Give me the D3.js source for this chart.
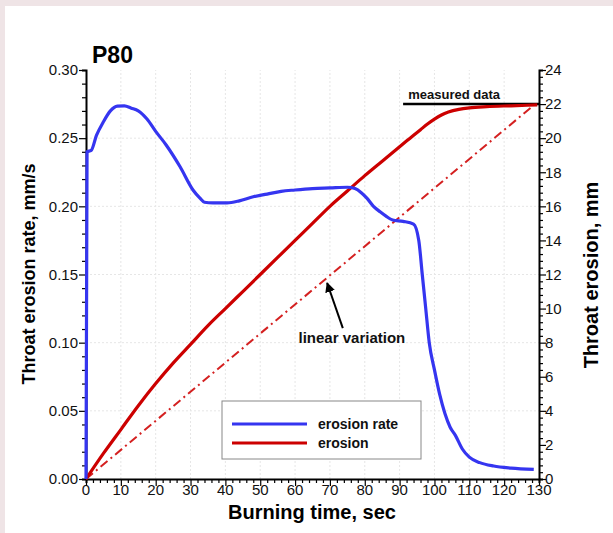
<!DOCTYPE html>
<html lang="en">
<head>
  <meta charset="UTF-8" />
  <title>P80 throat erosion</title>
  <script src="https://d3js.org/d3.v7.min.js"></script>
  <style>
    body { margin: 0; background: #efe4e6; }
    svg { display: block; font-family: "Liberation Sans", Arial, sans-serif; }
    .tick-label { font-size: 15px; fill: #111; }
    .axis-title { font-size: 20px; font-weight: bold; fill: #000; }
    .note { font-size: 13px; font-weight: bold; fill: #111; }
  </style>
</head>
<body>
  <svg id="chart" width="613" height="533"></svg>

  <script>
    // erosion rate, mm/s
    const rateTime = [0, 0.3, 1.5, 3, 5, 7, 9, 11, 13, 15, 17.5, 20, 23, 27, 30.7, 32.7, 34, 36.4, 40.5, 44, 48, 52, 56, 60, 65, 70, 75, 77.2, 79, 80.6, 82.5, 84.4, 86, 88, 91, 94, 95.5, 96.5, 97.5, 98.5, 100, 101.5, 103, 104.5, 106, 108, 110, 113, 117, 122, 128.5];
    const rateValue = [0, 0.240, 0.241, 0.252, 0.262, 0.270, 0.2735, 0.2737, 0.272, 0.270, 0.264, 0.255, 0.245, 0.229, 0.212, 0.206, 0.203, 0.2025, 0.2025, 0.204, 0.207, 0.209, 0.211, 0.212, 0.213, 0.2135, 0.214, 0.213, 0.210, 0.206, 0.200, 0.196, 0.193, 0.190, 0.189, 0.187, 0.175, 0.150, 0.125, 0.100, 0.080, 0.062, 0.048, 0.038, 0.032, 0.022, 0.016, 0.012, 0.0095, 0.008, 0.007];

    // erosion, mm
    const erosionTime = [0, 5, 10, 15, 20, 25, 30, 35, 40, 45, 50, 55, 60, 65, 70, 75, 80, 85, 90, 93, 96, 98, 100, 102, 104, 107, 110, 115, 122, 129.5];
    const erosionValue = [0, 1.5, 2.9, 4.3, 5.6, 6.8, 7.9, 9.0, 10.0, 11.0, 12.0, 13.0, 14.0, 15.0, 16.0, 16.9, 17.8, 18.65, 19.5, 20.0, 20.5, 20.83, 21.12, 21.36, 21.53, 21.69, 21.78, 21.85, 21.9, 21.95];

    // linear variation and measured data, mm
    const linearTime = [0, 128.3];
    const linearValue = [0, 21.9];
    const measuredTime = [91, 130];
    const measuredValue = [22, 22];

    const xTicks = d3.range(0, 131, 10);
    const leftTicks = [0, 0.05, 0.10, 0.15, 0.20, 0.25, 0.30];
    const rightTicks = d3.range(0, 25, 2);

    const svg = d3.select("#chart");
    svg.append("rect").attr("x", 5).attr("y", 6).attr("width", 608).attr("height", 527).attr("fill", "#fff");

    const x = d3.scaleLinear().domain([0, 130]).range([86, 539]);
    const yL = d3.scaleLinear().domain([0, 0.30]).range([479, 70]);
    const yR = d3.scaleLinear().domain([0, 24]).range([479, 70]);

    // faint grid
    const grid = svg.append("g").attr("stroke", "#e6e6e6").attr("stroke-dasharray", "2,2").attr("stroke-width", 1);
    grid.selectAll(".gx").data(xTicks.slice(1, -1)).join("line")
      .attr("x1", d => x(d)).attr("x2", d => x(d)).attr("y1", yL(0)).attr("y2", yL(0.30));
    grid.selectAll(".gy").data(leftTicks.slice(1, -1)).join("line")
      .attr("x1", x(0)).attr("x2", x(130)).attr("y1", d => yL(d)).attr("y2", d => yL(d));

    // axes
    const fmt2 = d3.format(".2f");
    const bottom = svg.append("g").attr("transform", `translate(0,${yL(0)})`)
      .call(d3.axisBottom(x).tickValues(d3.range(0, 131, 2)).tickSize(4).tickFormat(""));
    bottom.selectAll(".tick line").filter(d => d % 10 === 0).attr("y2", 7);
    bottom.append("g").selectAll("text").data(xTicks).join("text")
      .attr("class", "tick-label").attr("x", d => x(d)).attr("y", 16).attr("text-anchor", "middle")
      .text(d => d);

    const left = svg.append("g").attr("transform", `translate(${x(0)},0)`)
      .call(d3.axisLeft(yL).tickValues(d3.range(0, 0.3001, 0.01)).tickSize(4).tickFormat(""));
    left.selectAll(".tick line").filter(d => Math.abs(Math.round(d * 100) % 5) === 0).attr("x2", -7);
    left.append("g").selectAll("text").data(leftTicks).join("text")
      .attr("class", "tick-label").attr("x", -8).attr("y", d => yL(d)).attr("dy", "0.35em")
      .attr("text-anchor", "end").text(d => fmt2(d));

    const right = svg.append("g").attr("transform", `translate(${x(130)},0)`)
      .call(d3.axisRight(yR).tickValues(d3.range(0, 24.001, 0.4)).tickSize(4).tickFormat(""));
    right.selectAll(".tick line").filter(d => Math.abs(d / 2 - Math.round(d / 2)) < 1e-6).attr("x2", 7);
    right.append("g").selectAll("text").data(rightTicks).join("text")
      .attr("class", "tick-label").attr("x", 6).attr("y", d => yR(d)).attr("dy", "0.35em")
      .text(d => d);

    [bottom, left, right].forEach(g => {
      g.select(".domain").attr("stroke", "#000").attr("stroke-width", 2);
      g.selectAll(".tick line").attr("stroke", "#000").attr("stroke-width", 1.2);
    });

    // series
    const lineR = d3.line().x(d => x(d[0])).y(d => yR(d[1])).curve(d3.curveMonotoneX);
    const lineL = d3.line().x(d => x(d[0])).y(d => yL(d[1])).curve(d3.curveMonotoneX);

    svg.append("path").datum(d3.zip(linearTime, linearValue))
      .attr("d", lineR).attr("fill", "none").attr("stroke", "#d42020").attr("stroke-width", 2)
      .attr("stroke-dasharray", "9,4,2,4");

    svg.append("path").datum(d3.zip(measuredTime, measuredValue))
      .attr("d", lineR).attr("fill", "none").attr("stroke", "#000").attr("stroke-width", 2.5);

    svg.append("path").datum(d3.zip(erosionTime, erosionValue))
      .attr("d", lineR).attr("fill", "none").attr("stroke", "#cc0000").attr("stroke-width", 3.2);

    svg.append("path").datum(d3.zip(rateTime, rateValue))
      .attr("d", lineL).attr("fill", "none").attr("stroke", "#3535f0").attr("stroke-width", 3.2);

    // annotations
    svg.append("text").attr("class", "note").attr("x", x(92.5)).attr("y", yR(22) - 5).text("measured data");

    svg.append("defs").append("marker")
      .attr("id", "arrow").attr("viewBox", "0 -5 10 10").attr("refX", 9).attr("refY", 0)
      .attr("markerWidth", 5).attr("markerHeight", 5).attr("orient", "auto")
      .append("path").attr("d", "M0,-5L10,0L0,5Z").attr("fill", "#000");

    svg.append("line")
      .attr("x1", x(73.7)).attr("y1", yR(8.85)).attr("x2", x(69.2)).attr("y2", yR(11.5))
      .attr("stroke", "#000").attr("stroke-width", 2).attr("marker-end", "url(#arrow)");
    svg.append("text").attr("class", "note").attr("x", x(76.3)).attr("y", yR(8.0))
      .attr("text-anchor", "middle").style("font-size", "15px").text("linear variation");

    // legend
    const legend = svg.append("g").attr("transform", "translate(222,401)");
    legend.append("rect").attr("width", 199).attr("height", 58).attr("fill", "#fff")
      .attr("stroke", "#888").attr("stroke-width", 1);
    const legendItems = [["erosion rate", "#3535f0"], ["erosion", "#cc0000"]];
    legendItems.forEach(([name, color], i) => {
      legend.append("line").attr("x1", 10).attr("x2", 85).attr("y1", 23 + i * 19).attr("y2", 23 + i * 19)
        .attr("stroke", color).attr("stroke-width", 3.2);
      legend.append("text").attr("x", 96).attr("y", 23 + i * 19).attr("dy", "0.35em")
        .style("font-size", "14px").style("font-weight", "bold").attr("fill", "#111").text(name);
    });

    // titles
    svg.append("text").attr("x", 92).attr("y", 63).style("font-size", "23px").style("font-weight", "bold").text("P80");
    svg.append("text").attr("class", "axis-title").attr("x", 312).attr("y", 519).attr("text-anchor", "middle").text("Burning time, sec");
    svg.append("text").attr("class", "axis-title").attr("transform", "translate(35,274) rotate(-90)")
      .attr("text-anchor", "middle").style("font-size", "18px").text("Throat erosion rate, mm/s");
    svg.append("text").attr("class", "axis-title").attr("transform", "translate(598,275) rotate(-90)")
      .attr("text-anchor", "middle").text("Throat erosion, mm");
  </script>
</body>
</html>
